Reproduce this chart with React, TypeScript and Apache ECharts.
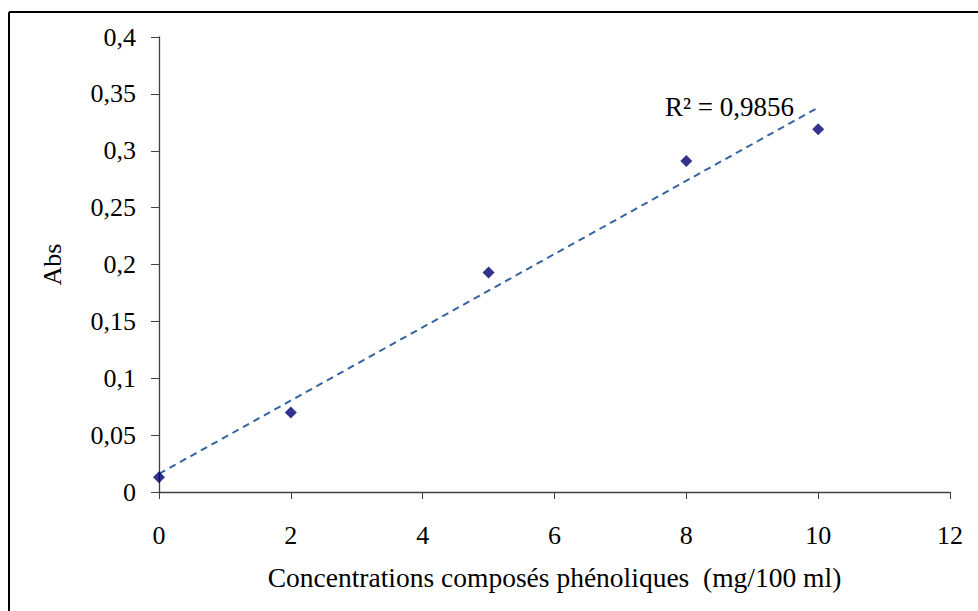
import React, { useEffect, useRef } from "react";
import * as echarts from "echarts";

const concentrations = [0, 2, 5, 8, 10];
const absorbance = [0.013, 0.07, 0.193, 0.291, 0.319];
const trendX = [0, 10];
const trendY = [0.016, 0.338];
const r2Label = "R\u00B2 = 0,9856";
const xTitle = "Concentrations composés phénoliques  (mg/100 ml)";
const yTitle = "Abs";

const FONT = "'Liberation Serif', 'Times New Roman', serif";

export default function App() {
  const ref = useRef<HTMLDivElement>(null);
  useEffect(() => {
    if (!ref.current) return;
    const chart = echarts.init(ref.current, null, { renderer: "svg" });
    const fmt = (v: number) => String(+v.toFixed(2)).replace(".", ",");
    chart.setOption({
      animation: false,
      backgroundColor: "#ffffff",
      grid: { left: 159, top: 37, width: 791, height: 455, containLabel: false },
      xAxis: {
        type: "value",
        min: 0,
        max: 12,
        interval: 2,
        name: xTitle,
        nameLocation: "middle",
        nameGap: 71,
        nameTextStyle: { fontFamily: FONT, fontSize: 27.5, color: "#000" },
        axisLine: { show: true, lineStyle: { color: "#404040", width: 1.3 } },
        axisTick: { show: true, inside: false, length: 7, lineStyle: { color: "#404040" } },
        axisLabel: { fontFamily: FONT, fontSize: 26, color: "#000", margin: 30 },
        splitLine: { show: false },
      },
      yAxis: {
        type: "value",
        min: 0,
        max: 0.4,
        interval: 0.05,
        name: yTitle,
        nameLocation: "middle",
        nameGap: 94,
        nameRotate: 90,
        nameTextStyle: { fontFamily: FONT, fontSize: 26, color: "#000" },
        axisLine: { show: true, onZero: false, lineStyle: { color: "#404040", width: 1.3 } },
        axisTick: { show: true, inside: false, length: 8, lineStyle: { color: "#404040" } },
        axisLabel: { fontFamily: FONT, fontSize: 26, color: "#000", margin: 23, formatter: fmt },
        splitLine: { show: false },
      },
      series: [
        {
          type: "line",
          data: trendX.map((x, i) => [x, trendY[i]]),
          showSymbol: false,
          symbol: "none",
          lineStyle: { color: "#3565a0", width: 2, type: [7, 5] },
          silent: true,
          z: 1,
        },
        {
          type: "scatter",
          data: concentrations.map((x, i) => [x, absorbance[i]]),
          symbol: "diamond",
          symbolSize: [12, 12],
          itemStyle: { color: "#000070" },
          z: 3,
        },
      ],
      graphic: [
        {
          type: "text",
          left: 665,
          top: 93,
          style: { text: r2Label, fontFamily: FONT, fontSize: 27, fill: "#000" },
        },
        {
          type: "line",
          shape: { x1: 9, y1: 12, x2: 978, y2: 12 },
          style: { stroke: "#000", lineWidth: 2 },
        },
        {
          type: "line",
          shape: { x1: 9, y1: 12, x2: 9, y2: 611 },
          style: { stroke: "#000", lineWidth: 2 },
        },
      ],
    });
    return () => chart.dispose();
  }, []);
  return (
    <div
      ref={ref}
      style={{ position: "fixed", left: 0, top: 0, width: 978, height: 611 }}
    />
  );
}
